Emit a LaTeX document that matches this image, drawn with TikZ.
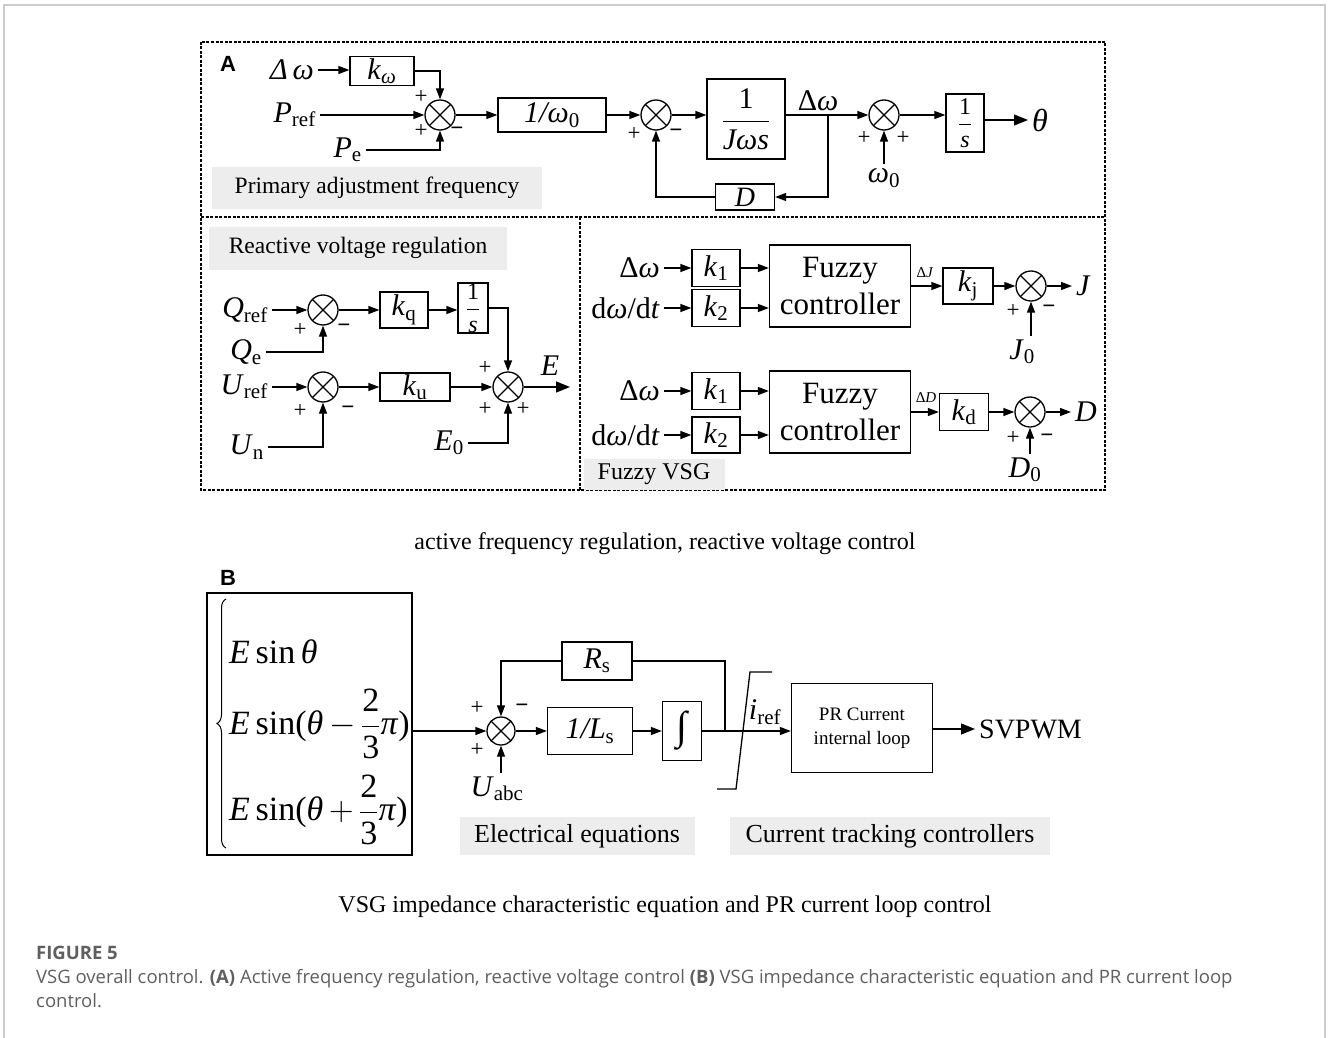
\RequirePackage{fix-cm}
\documentclass[tikz,border=0pt]{standalone}
\usepackage{fontspec}
\setmainfont{Liberation Serif}
\newfontfamily\capfont{Open Sans}
\newfontfamily\panelfont{Liberation Sans}
\usepackage{amsmath}
\usetikzlibrary{arrows.meta,decorations.pathreplacing}
\definecolor{tagGrey}{HTML}{EDEDED}
\definecolor{capGrey}{HTML}{5F5F5F}
\definecolor{frameGrey}{HTML}{CCCCCC}
\newcommand{\fsz}[2]{\fontsize{#1}{#2}\selectfont}

\begin{document}
\begin{tikzpicture}[x=1pt, y=1pt,
    blk/.style={draw, line width=1.3pt, inner sep=0pt, font=\fsz{30}{35}},
    sig/.style={inner sep=4pt, font=\fsz{30}{35}},
    sgn/.style={inner sep=0pt, font=\fsz{23}{26}},
    tag/.style={fill=tagGrey, inner sep=0pt, font=\fsz{23.5}{28}},
    plab/.style={inner sep=0pt, font=\panelfont\bfseries\fsz{22}{26}},
    capline/.style={inner sep=0pt, font=\fsz{24}{28}},
    eqline/.style={anchor=west, inner sep=0pt, font=\fsz{34}{40}},
    sumnode/.style={circle, draw, line width=1.3pt, minimum size=30pt, inner sep=0pt,
        path picture={\draw[line width=1.1pt]
            (path picture bounding box.north west) -- (path picture bounding box.south east)
            (path picture bounding box.north east) -- (path picture bounding box.south west);}},
    arr/.style={-{Triangle[length=11pt,width=8pt]}, line width=1.3pt},
    bigarr/.style={-{Triangle[length=14pt,width=11pt]}, line width=1.3pt},
    panel/.style={line width=1.5pt, dash pattern=on 3pt off 1.5pt}
  ]
  \useasboundingbox (0,0) rectangle (1328,-1038);
  \draw[frameGrey, line width=1.5pt] (4,-1038) -- (4,-5) -- (1325,-5) -- (1325,-1038);

  % panel A
  \draw[panel] (201,-42) rectangle (1105,-490);
  \draw[panel] (201,-217) -- (1105,-217);
  \draw[panel] (580,-217) -- (580,-490);
  \node[plab] (labA) at (228,-64) {A};

  \node[sig, anchor=east] (dwin) at (318,-70) {\textit{Δ\,ω}};
  \node[blk, minimum width=64, minimum height=29] (kw) at (382,-71) {\textit{k}\textsubscript{\textit{ω}}};
  \node[sumnode] (s1) at (440,-115) {};
  \node[sig, anchor=east] (pref) at (320,-115) {\textit{P}\textsubscript{ref}};
  \node[sig, anchor=east] (pe) at (366,-150) {\textit{P}\textsubscript{e}};
  \node[sgn] (s1a) at (421,-97) {+};
  \node[sgn] (s1b) at (421,-131) {+};
  \node[sgn] (s1c) at (457,-131) {\textbf{−}};
  \node[blk, minimum width=108, minimum height=34] (w0) at (552,-115) {\textit{1/ω}\textsubscript{0}};
  \node[sumnode] (s2) at (656,-115) {};
  \node[sgn] (s2a) at (634,-134) {+};
  \node[sgn] (s2b) at (676,-133) {\textbf{−}};
  \node[blk, minimum width=78, minimum height=80] (jws) at (746,-119) {$\dfrac{\text{1}}{\text{\textit{Jωs}}}$};
  \node[sig] (dwj) at (818,-101) {Δ\textit{ω}};
  \coordinate (brj) at (828,-115);
  \node[blk, minimum width=59, minimum height=26, font=\fsz{28}{32}] (dfb) at (745,-197) {\textit{D}};
  \node[sumnode] (s3) at (884,-115) {};
  \node[sgn] (s3a) at (864,-138) {+};
  \node[sgn] (s3b) at (903,-138) {+};
  \node[sig] (w0in) at (884,-178) {\textit{ω}\textsubscript{0}};
  \node[blk, minimum width=38, minimum height=58, font=\fsz{24}{28}] (itg) at (965,-123) {$\dfrac{\text{1}}{\text{\textit{s}}}$};
  \node[sig, anchor=west, font=\fsz{32}{36}] (th) at (1028,-120) {\textit{θ}};
  \node[tag, minimum width=330, minimum height=42] (tg1) at (377,-188) {Primary adjustment frequency};

  \draw[arr] (dwin.east) -- (dwin.east -| kw.west);
  \draw[arr] (kw.east) -| (s1.north);
  \draw[arr] (pref.east) -- (s1.west);
  \draw[arr] (pe.east) -| (s1.south);
  \draw[arr] (s1.east) -- (w0.west);
  \draw[arr] (w0.east) -- (s2.west);
  \draw[arr] (s2.east) -- (s2.east -| jws.west);
  \draw[arr] (s3.west -| jws.east) -- (s3.west);
  \draw[arr] (brj) |- (dfb.east);
  \draw[arr] (dfb.west) -| (s2.south);
  \draw[arr] (w0in.north) -- (s3.south);
  \draw[arr] (s3.east) -- (s3.east -| itg.west);
  \draw[bigarr] (th.west -| itg.east) -- (th.west);

  % reactive voltage regulation
  \node[tag, minimum width=298, minimum height=43] (tg2) at (358,-248) {Reactive voltage regulation};
  \node[sumnode] (sq) at (323,-310) {};
  \node[sig, anchor=east] (qref) at (272,-310) {\textit{Q}\textsubscript{ref}};
  \node[sig, anchor=east] (qe) at (266,-352) {\textit{Q}\textsubscript{e}};
  \node[blk, minimum width=48, minimum height=36] (kq) at (404,-310) {\textit{k}\textsubscript{q}};
  \node[blk, minimum width=30, minimum height=50, font=\fsz{24}{28}] (itq) at (473,-308) {$\dfrac{\text{1}}{\text{\textit{s}}}$};
  \node[sumnode] (se) at (508,-387) {};
  \node[sig] (eout) at (550,-366) {\textit{E}};
  \coordinate (eend) at (570,-387);
  \node[sumnode] (su) at (323,-387) {};
  \node[sig, anchor=east] (uref) at (272,-387) {\textit{U}\textsubscript{ref}};
  \node[sig, anchor=east] (un) at (268,-447) {\textit{U}\textsubscript{n}};
  \node[blk, minimum width=70, minimum height=28] (ku) at (415,-387) {\textit{k}\textsubscript{u}};
  \node[sig, anchor=east] (e0) at (468,-443) {\textit{E}\textsubscript{0}};
  \node[sgn] (sqa) at (300,-330) {+};
  \node[sgn] (sqb) at (344,-328) {\textbf{−}};
  \node[sgn] (sua) at (300,-411) {+};
  \node[sgn] (sub) at (348,-410) {\textbf{−}};
  \node[sgn] (sea) at (485,-368) {+};
  \node[sgn] (seb) at (485,-409) {+};
  \node[sgn] (sec) at (523,-409) {+};

  \draw[arr] (qref.east) -- (sq.west);
  \draw[arr] (qe.east) -| (sq.south);
  \draw[arr] (sq.east) -- (kq.west);
  \draw[arr] (kq.east) -- (kq.east -| itq.west);
  \draw[arr] (itq.east) -| (se.north);
  \draw[bigarr] (se.east) -- (eend);
  \draw[arr] (uref.east) -- (su.west);
  \draw[arr] (un.east) -| (su.south);
  \draw[arr] (su.east) -- (ku.west);
  \draw[arr] (ku.east) -- (se.west);
  \draw[arr] (e0.east) -| (se.south);

  % fuzzy VSG
  \node[sig, anchor=east] (dwa) at (664,-268) {Δ\textit{ω}};
  \node[blk, minimum width=48, minimum height=37] (k1a) at (716,-268) {\textit{k}\textsubscript{1}};
  \node[sig, anchor=east] (dta) at (664,-308) {d\textit{ω}/d\textit{t}};
  \node[blk, minimum width=48, minimum height=37] (k2a) at (716,-308) {\textit{k}\textsubscript{2}};
  \node[blk, minimum width=141, minimum height=82, align=center, font=\fsz{31}{37}] (fz1) at (840,-286) {Fuzzy\\controller};
  \node[inner sep=0pt, font=\fsz{15}{18}] (dj) at (925,-273) {Δ\textit{J}};
  \node[blk, minimum width=50, minimum height=36] (kj) at (968,-286) {\textit{k}\textsubscript{j}};
  \node[sumnode] (sj) at (1031,-286) {};
  \node[sig, anchor=west] (jout) at (1072,-286) {\textit{J}};
  \node[sig] (j0) at (1022,-352) {\textit{J}\textsubscript{0}};
  \node[sgn] (sja) at (1013,-311) {+};
  \node[sgn] (sjb) at (1049,-309) {\textbf{−}};

  \node[sig, anchor=east] (dwb) at (664,-391) {Δ\textit{ω}};
  \node[blk, minimum width=48, minimum height=37] (k1b) at (716,-391) {\textit{k}\textsubscript{1}};
  \node[sig, anchor=east] (dtb) at (664,-435) {d\textit{ω}/d\textit{t}};
  \node[blk, minimum width=48, minimum height=36] (k2b) at (716,-435) {\textit{k}\textsubscript{2}};
  \node[blk, minimum width=141, minimum height=82, align=center, font=\fsz{31}{37}] (fz2) at (840,-412) {Fuzzy\\controller};
  \node[inner sep=0pt, font=\fsz{15}{18}] (dd) at (926,-398) {Δ\textit{D}};
  \node[blk, minimum width=49, minimum height=37] (kd) at (964,-412) {\textit{k}\textsubscript{d}};
  \node[sumnode] (sd) at (1030,-412) {};
  \node[sig, anchor=west] (dout) at (1071,-412) {\textit{D}};
  \node[sig] (d0) at (1025,-470) {\textit{D}\textsubscript{0}};
  \node[sgn] (sda) at (1013,-438) {+};
  \node[sgn] (sdb) at (1047,-438) {\textbf{−}};
  \node[tag, minimum width=141, minimum height=31, font=\fsz{24}{28}] (tg3) at (654,-474) {Fuzzy VSG};

  \draw[arr] (dwa.east) -- (k1a.west);
  \draw[arr] (dta.east) -- (k2a.west);
  \draw[arr] (k1a.east) -- (k1a.east -| fz1.west);
  \draw[arr] (k2a.east) -- (k2a.east -| fz1.west);
  \draw[arr] (fz1.east) -- (kj.west);
  \draw[arr] (kj.east) -- (sj.west);
  \draw[arr] (sj.east) -- (jout.west);
  \draw[arr] (sj |- j0.north) -- (sj.south);
  \draw[arr] (dwb.east) -- (k1b.west);
  \draw[arr] (dtb.east) -- (k2b.west);
  \draw[arr] (k1b.east) -- (k1b.east -| fz2.west);
  \draw[arr] (k2b.east) -- (k2b.east -| fz2.west);
  \draw[arr] (fz2.east) -- (kd.west);
  \draw[arr] (kd.east) -- (sd.west);
  \draw[arr] (sd.east) -- (dout.west);
  \draw[arr] (sd |- d0.north) -- (sd.south);

  \node[capline] (capA) at (665,-544) {active frequency regulation, reactive voltage control};

  % panel B
  \node[plab] (labB) at (228,-578) {B};
  \node[draw, line width=1.3pt, minimum width=205, minimum height=262, inner sep=0pt] (eqb) at (309.5,-724) {};
  \draw[line width=1pt, decorate, decoration={brace, amplitude=9pt}] (226,-848) -- (226,-599);
  \node[eqline] (eq1) at (229,-652) {\textit{E}\,sin\,\textit{θ}};
  \node[eqline] (eq2) at (229,-724) {\textit{E}\,sin(\textit{θ}$\mkern3mu{-}\mkern3mu\dfrac{\text{2}}{\text{3}}$\textit{π})};
  \node[eqline] (eq3) at (229,-810) {\textit{E}\,sin(\textit{θ}$\mkern3mu{+}\mkern3mu\dfrac{\text{2}}{\text{3}}$\textit{π})};
  \node[sumnode, minimum size=28pt] (sb) at (501,-731) {};
  \node[sgn] (sba) at (477,-708) {+};
  \node[sgn] (sbb) at (477,-750) {+};
  \node[sgn] (sbc) at (522,-708) {\textbf{−}};
  \node[blk, minimum width=70, minimum height=38] (rs) at (597,-661) {\textit{R}\textsubscript{s}};
  \node[blk, minimum width=85, minimum height=47] (ls) at (590,-731) {\textit{1/L}\textsubscript{s}};
  \node[blk, minimum width=39, minimum height=59, font=\fsz{40}{44}] (intg) at (682,-731) {∫};
  \coordinate (jb) at (725,-731);
  \node[sig] (uabc) at (497,-789) {\textit{U}\textsubscript{abc}};
  \node[sig] (iref) at (765,-712) {\textit{i}\textsubscript{ref}};
  \node[blk, minimum width=141, minimum height=89, align=center, font=\fsz{19}{24}] (pr) at (862,-728) {PR Current\\internal loop};
  \node[sig, anchor=west, font=\fsz{28}{32}] (svp) at (975,-729) {SVPWM};
  \node[tag, minimum width=235, minimum height=38, font=\fsz{26}{30}] (tg4) at (577,-836) {Electrical equations};
  \node[tag, minimum width=320, minimum height=38, font=\fsz{26}{30}] (tg5) at (890,-836) {Current tracking controllers};

  \draw[arr] (eqb.east |- sb.west) -- (sb.west);
  \draw[arr] (sb.east) -- (ls.west);
  \draw[arr] (ls.east) -- (intg.west);
  \draw[line width=1.3pt] (intg.east) -- (jb) |- (rs.east);
  \draw[arr] (rs.west) -| (sb.north);
  \draw[arr] (sb |- uabc.north) -- (sb.south);
  \draw[arr] (jb) -- (jb -| pr.west);
  \draw[bigarr] (pr.east |- svp.west) -- (svp.west);
  \draw[line width=1.3pt] (717,-789) -- (736,-789) -- (750,-672) -- (772,-672);

  \node[capline] (capB) at (665,-907) {VSG impedance characteristic equation and PR current loop control};

  % figure caption
  \node[anchor=north west, align=left, inner sep=0pt, text=capGrey, font=\capfont\fsz{18.5}{24}] (figcap) at (36,-946)
    {{\bfseries FIGURE 5}\\VSG overall control. {\bfseries (A)} Active frequency regulation, reactive voltage control {\bfseries (B)} VSG impedance characteristic equation and PR current loop\\control.};
\end{tikzpicture}
\end{document}
